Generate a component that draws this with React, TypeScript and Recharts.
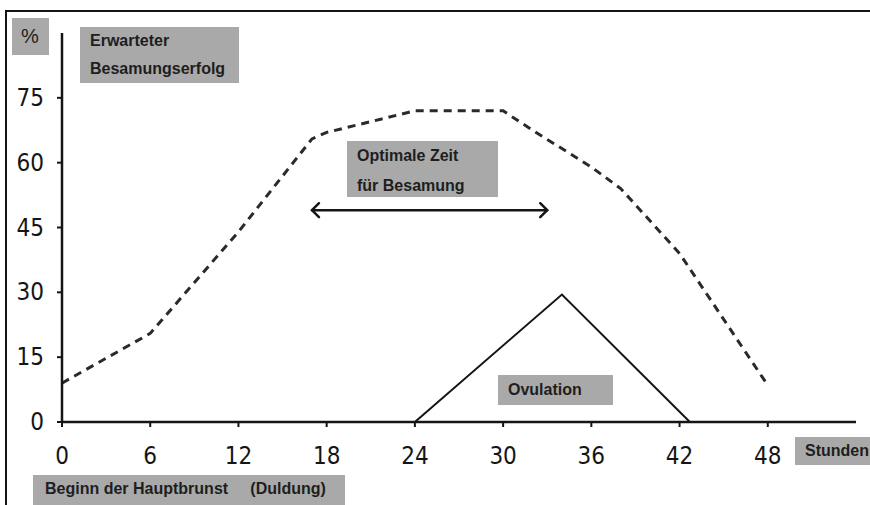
import { LineChart, Line, XAxis, YAxis, ReferenceLine } from 'recharts';

// Erwarteter Besamungserfolg (%) über die Stunden nach Beginn der Hauptbrunst
const stunden = [0, 6, 12, 17, 18, 21, 24, 30, 32, 36, 38, 42, 48];
const erfolg = [9, 20.5, 44, 65.5, 67, 69.5, 72, 72, 67.5, 59, 54, 39, 8.5];

// Ovulation (Dreieck)
const ovuStunden = [24, 34, 42.7];
const ovuWerte = [0, 29.5, 0];

// Optimale Zeit für Besamung (Pfeil)
const optimalVon = 17;
const optimalBis = 33;
const optimalHoehe = 49;

const xTicks = [0, 6, 12, 18, 24, 30, 36, 42, 48];
const yTicks = [0, 15, 30, 45, 60, 75];

const erfolgData = stunden.map((h, i) => ({ h, v: erfolg[i] }));
const ovuData = ovuStunden.map((h, i) => ({ h, v: ovuWerte[i] }));

const ink = '#151515';
const boxGray = '#a9a9a9';
const handFont = '"Liberation Sans Narrow", "DejaVu Sans Condensed", "Liberation Sans", sans-serif';
const boxFont = '"Liberation Sans", Arial, sans-serif';

const XTick = ({ x, y, payload }: any) => (
  <text x={x} y={y} textAnchor="middle" dominantBaseline="central"
    fontFamily={handFont} fontSize={24} fill={ink}>
    {payload.value}
  </text>
);

const YTick = ({ x, y, payload }: any) => (
  <text x={x} y={y} textAnchor="end" dominantBaseline="central"
    fontFamily={handFont} fontSize={24} fill={ink}>
    {payload.value}
  </text>
);

const ArrowShape = (props: any) => {
  const { x1, y1, x2, y2 } = props;
  const a = 7;
  return (
    <g stroke={ink} strokeWidth={2.5} fill="none" strokeLinecap="round" strokeLinejoin="round">
      <line x1={x1} y1={y1} x2={x2} y2={y2} />
      <polyline points={`${x1 + a},${y1 - a} ${x1},${y1} ${x1 + a},${y1 + a}`} />
      <polyline points={`${x2 - a},${y2 - a} ${x2},${y2} ${x2 - a},${y2 + a}`} />
    </g>
  );
};

const Box = ({ left, top, width, height, lines, size = 16, lh, weight = 'bold', pad = 10 }: any) => (
  <div style={{
    position: 'absolute', left, top, width, height, background: boxGray,
    fontFamily: boxFont, fontWeight: weight, fontSize: size, color: '#1e1e1e',
    lineHeight: `${lh ?? height}px`, paddingLeft: pad, boxSizing: 'border-box',
    whiteSpace: 'pre', overflow: 'hidden',
  }}>
    {lines.map((l: string, i: number) => <div key={i}>{l}</div>)}
  </div>
);

export default function App() {
  return (
    <div style={{ position: 'relative', width: 870, height: 505, background: '#fff', overflow: 'hidden' }}>
      <style>{'body{margin:0}'}</style>
      <div style={{ position: 'absolute', left: 5, top: 10, right: 0, bottom: -5, borderTop: `2px solid ${ink}`, borderLeft: `2px solid ${ink}` }} />
      <div style={{ position: 'absolute', left: 0, top: 0 }}>
        <LineChart width={870} height={505} margin={{ top: 33, right: 14, bottom: 0, left: 0 }}>
          <XAxis type="number" dataKey="h" domain={[0, 54]} ticks={xTicks} allowDataOverflow
            height={83} tick={<XTick />} tickSize={5} tickMargin={29}
            axisLine={{ stroke: ink, strokeWidth: 2.5 }} tickLine={{ stroke: ink, strokeWidth: 2 }} />
          <YAxis type="number" domain={[0, 90]} ticks={yTicks} allowDataOverflow
            width={62} tick={<YTick />} tickSize={5} tickMargin={13}
            axisLine={{ stroke: ink, strokeWidth: 2.5 }} tickLine={{ stroke: ink, strokeWidth: 2 }} />
          <Line data={erfolgData} dataKey="v" type="linear" stroke="#2a2a2a" strokeWidth={3}
            strokeDasharray="8 6" dot={false} isAnimationActive={false} />
          <Line data={ovuData} dataKey="v" type="linear" stroke={ink} strokeWidth={2}
            dot={false} isAnimationActive={false} />
          <ReferenceLine segment={[{ x: optimalVon, y: optimalHoehe }, { x: optimalBis, y: optimalHoehe }]}
            shape={<ArrowShape />} />
        </LineChart>
      </div>
      <Box left={12} top={18} width={37} height={37} lines={['%']} size={20} weight="normal" pad={9} />
      <Box left={80} top={27} width={159} height={56} lh={28} lines={['Erwarteter', 'Besamungserfolg']} />
      <Box left={347} top={141} width={151} height={56} lh={30} lines={['Optimale Zeit', 'für Besamung']} />
      <Box left={498} top={375} width={115} height={30} lines={['Ovulation']} />
      <Box left={795} top={437} width={80} height={28} lines={['Stunden']} />
      <Box left={33} top={475} width={312} height={30} lh={28} lines={['Beginn der Hauptbrunst     (Duldung)']} pad={12} />
    </div>
  );
}
